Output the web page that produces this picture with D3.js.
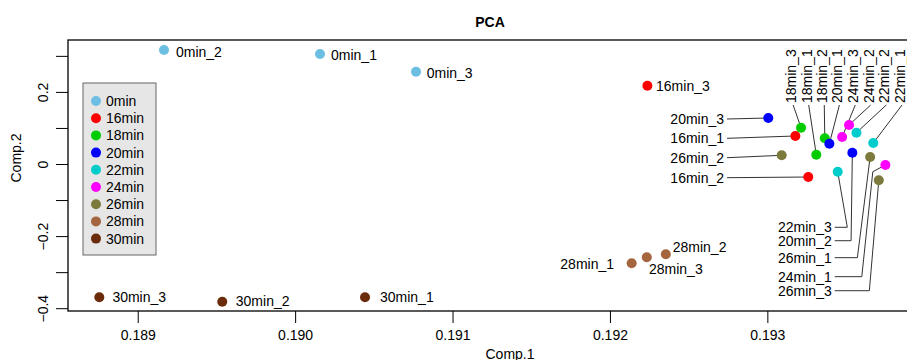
<!DOCTYPE html>
<html>
<head>
<meta charset="utf-8">
<script src="https://d3js.org/d3.v7.min.js"></script>
<style>
	body { margin: 0; background: #fff; }
	text { font-family: 'Liberation Sans', Arial, sans-serif; font-size: 14px; fill: #000; }
	.title { font-weight: bold; }
	.leader { stroke: #333; stroke-width: 1; fill: none; }
</style>
</head>
<body>
<script>
'use strict';

// sample names, group of each sample and the two PCA scores
var samples = ['0min_1', '0min_2', '0min_3',
	'16min_1', '16min_2', '16min_3',
	'18min_1', '18min_2', '18min_3',
	'20min_1', '20min_2', '20min_3',
	'22min_1', '22min_2', '22min_3',
	'24min_1', '24min_2', '24min_3',
	'26min_1', '26min_2', '26min_3',
	'28min_1', '28min_2', '28min_3',
	'30min_1', '30min_2', '30min_3'];

var comp1 = [0.190158, 0.189167, 0.190768,
	0.193178, 0.193260, 0.192238,
	0.193311, 0.193365, 0.193214,
	0.193394, 0.193540, 0.193006,
	0.193673, 0.193566, 0.193447,
	0.193750, 0.193519, 0.193475,
	0.193653, 0.193091, 0.193708,
	0.192138, 0.192355, 0.192234,
	0.190444, 0.189537, 0.188756];

var comp2 = [0.3051, 0.3162, 0.2561,
	0.0777, -0.0361, 0.2172,
	0.0258, 0.0713, 0.1007,
	0.0563, 0.0313, 0.1276,
	0.0583, 0.0868, -0.0214,
	-0.0028, 0.1082, 0.0749,
	0.0194, 0.0241, -0.0452,
	-0.2755, -0.2505, -0.2588,
	-0.3698, -0.3820, -0.3698];

var groups = ['0min', '16min', '18min', '20min', '22min', '24min', '26min', '28min', '30min'];

var groupColors = ['#6cbfe2', '#ff0000', '#00cc00', '#0000ff', '#00cccc',
	'#ff00ff', '#7b7a3c', '#a5663f', '#6b2c0b'];

var xTicks = [0.189, 0.190, 0.191, 0.192, 0.193],
	yTicks = [-0.4, -0.3, -0.2, -0.1, 0, 0.1, 0.2, 0.3],
	yLabelled = [-0.4, -0.2, 0, 0.2];

// label placement (in data units), kind says how the label is drawn
// plain: text right of point, end: text left of point,
// left: text left with leader, down: text left with elbow leader,
// up: rotated text above with leader
var labelKind = ['plain', 'plain', 'plain',
	'left', 'left', 'plain',
	'up', 'up', 'up',
	'up', 'down', 'left',
	'up', 'up', 'down',
	'down', 'up', 'up',
	'down', 'left', 'down',
	'end', 'plain', 'plain',
	'plain', 'plain', 'plain'];

var labelX = [0.190228, 0.189243, 0.190836,
	0.192725, 0.192725, 0.192293,
	0.193250, 0.193349, 0.193151,
	0.193445, 0.193409, 0.192725,
	0.193843, 0.193743, 0.193409,
	0.193409, 0.193644, 0.193546,
	0.193409, 0.192725, 0.193409,
	0.192026, 0.192399, 0.192248,
	0.190539, 0.189623, 0.188839];

var labelY = [0.3024, 0.3107, 0.2516,
	0.0713, -0.0380, 0.2164,
	0.1692, 0.1692, 0.1692,
	0.1692, -0.2128, 0.1248,
	0.1692, 0.1692, -0.1756,
	-0.3126, 0.1692, 0.1692,
	-0.2599, 0.0175, -0.3515,
	-0.2774, -0.2311, -0.2921,
	-0.3689, -0.3800, -0.3681];

// extra bends of the elbow leaders, [comp1, comp2] pairs
var elbows = {
	'22min_3': [[0.193508, -0.1756]],
	'20min_2': [[0.193532, -0.2128]],
	'26min_1': [[0.193572, -0.2599]],
	'24min_1': [[0.193600, -0.3126], [0.193670, -0.0214]],
	'26min_3': [[0.193648, -0.3515]]
};

var W = 907, H = 360,
	margin = {top: 40, right: -5, bottom: 49, left: 68},
	width = W - margin.left - margin.right,
	height = H - margin.top - margin.bottom;

var x = d3.scaleLinear()
	.domain([0.188557, 0.193919])
	.range([0, width]);

var y = d3.scaleLinear()
	.domain([-0.4078, 0.344])
	.range([height, 0]);

var svg = d3.select('body').append('svg')
	.attr('width', W)
	.attr('height', H);

var g = svg.append('g')
	.attr('transform', 'translate(' + margin.left + ',' + margin.top + ')');

makeAxis();
drawLabels();
drawPoints();
drawLegend();

/*
* Axes, box, title and axis labels.
*/
function makeAxis() {
	var xAxis = g.append('g')
		.attr('transform', 'translate(0,' + height + ')')
		.call(d3.axisBottom(x)
			.tickValues(xTicks)
			.tickSize(12)
			.tickSizeOuter(0)
			.tickPadding(7)
			.tickFormat(d3.format('.3f')));
	xAxis.selectAll('text').style('font-size', '14px').attr('fill', '#000');

	var yAxis = g.append('g')
		.call(d3.axisLeft(y)
			.tickValues(yTicks)
			.tickSize(12)
			.tickSizeOuter(0)
			.tickFormat(function(d) {
				return yLabelled.indexOf(d) >= 0 ? (d === 0 ? '0' : d3.format('.1f')(d)) : '';
			}));
	yAxis.selectAll('text')
		.attr('x', null)
		.attr('dy', null)
		.attr('text-anchor', 'middle')
		.attr('transform', 'translate(-20,0) rotate(-90)')
		.style('font-size', '14px')
		.attr('fill', '#000');

	g.selectAll('.domain').remove();
	g.selectAll('.tick line').attr('stroke', '#000');

	g.append('rect')
		.attr('width', width)
		.attr('height', height)
		.attr('fill', 'none')
		.attr('stroke', '#000')
		.attr('stroke-width', 1.3);

	svg.append('text')
		.attr('class', 'title')
		.attr('x', 490)
		.attr('y', 27)
		.attr('text-anchor', 'middle')
		.text('PCA');

	svg.append('text')
		.attr('x', 510)
		.attr('y', 359)
		.attr('text-anchor', 'middle')
		.text('Comp.1');

	svg.append('text')
		.attr('transform', 'translate(21,158) rotate(-90)')
		.attr('text-anchor', 'middle')
		.text('Comp.2');
};

/*
* Sample labels and their leader lines.
*/
function drawLabels() {
	var line = d3.line();

	samples.forEach(function(s, i) {
		var px = x(comp1[i]), py = y(comp2[i]),
			lx = x(labelX[i]), ly = y(labelY[i]),
			kind = labelKind[i];

		if (kind === 'up') {
			g.append('path')
				.attr('class', 'leader')
				.attr('d', line([[lx + 2, ly + 2], [px, py]]));
			g.append('text')
				.attr('transform', 'translate(' + lx + ',' + ly + ') rotate(-90)')
				.attr('dy', '0.35em')
				.attr('text-anchor', 'start')
				.text(s);
			return;
		}

		if (kind === 'left' || kind === 'down') {
			var pts = [[lx + 3, ly]];
			(elbows[s] || []).forEach(function(e) {
				pts.push([x(e[0]), y(e[1])]);
			});
			pts.push([px, py]);
			g.append('path')
				.attr('class', 'leader')
				.attr('d', line(pts));
		}

		g.append('text')
			.attr('x', lx)
			.attr('y', ly)
			.attr('dy', '0.35em')
			.attr('text-anchor', kind === 'plain' ? 'start' : 'end')
			.text(s);
	});
};

/*
* The sample points, coloured by group.
*/
function drawPoints() {
	g.selectAll('.dot')
		.data(samples).enter()
		.append('circle')
			.attr('class', 'dot')
			.attr('cx', function(d, i) { return x(comp1[i]); })
			.attr('cy', function(d, i) { return y(comp2[i]); })
			.attr('r', 5)
			.attr('fill', function(d) {
				return groupColors[groups.indexOf(d.split('_')[0])];
			});
};

/*
* Legend box in the top left.
*/
function drawLegend() {
	var legend = svg.append('g')
		.attr('transform', 'translate(83,83)');

	legend.append('rect')
		.attr('width', 73)
		.attr('height', 172)
		.attr('fill', '#e6e6e6')
		.attr('stroke', '#666')
		.attr('stroke-width', 1);

	var item = legend.selectAll('.legend')
		.data(groups).enter()
		.append('g')
			.attr('class', 'legend')
			.attr('transform', function(d, i) {
				return 'translate(0,' + (18 + i * 17.2) + ')';
			});

	item.append('circle')
		.attr('cx', 13)
		.attr('r', 5)
		.attr('fill', function(d, i) { return groupColors[i]; });

	item.append('text')
		.attr('x', 23)
		.attr('dy', '0.35em')
		.text(function(d) { return d; });
};
</script>
</body>
</html>
